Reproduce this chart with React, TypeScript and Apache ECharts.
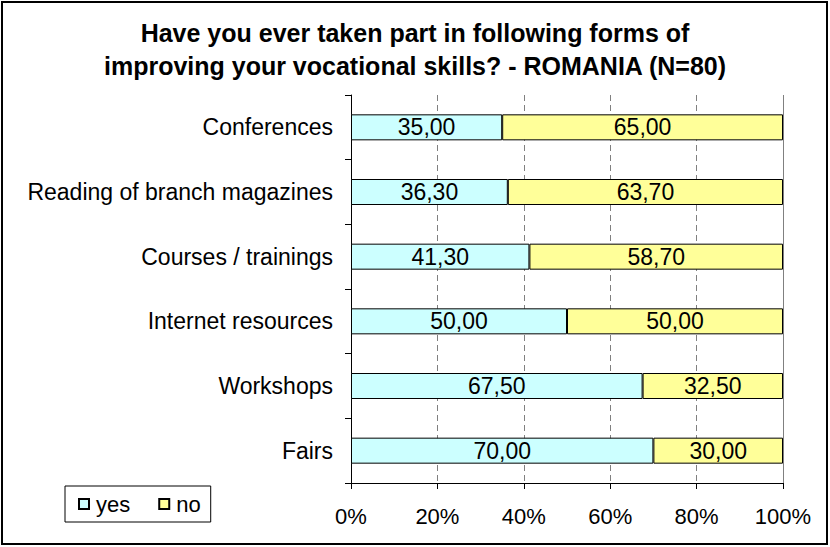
import React, { useEffect, useRef } from "react";
import * as echarts from "echarts";

const categories = [
  "Conferences",
  "Reading of branch magazines",
  "Courses / trainings",
  "Internet resources",
  "Workshops",
  "Fairs",
];
const yesValues = [35.0, 36.3, 41.3, 50.0, 67.5, 70.0];
const noValues = [65.0, 63.7, 58.7, 50.0, 32.5, 30.0];
const seriesNames = ["yes", "no"];
const titleText =
  "Have you ever taken part in following forms of\nimproving your vocational skills? - ROMANIA (N=80)";

const FONT = "'Liberation Sans', Arial, sans-serif";

export default function App() {
  const ref = useRef<HTMLDivElement>(null);
  useEffect(() => {
    if (!ref.current) return;
    const chart = echarts.init(ref.current, undefined, { renderer: "svg" });
    const fmt = (p: any) => Number(p.value).toFixed(2).replace(".", ",");
    const labelCfg = {
      show: true,
      position: "inside",
      color: "#000",
      fontSize: 23,
      fontFamily: FONT,
      formatter: fmt,
    };
    chart.setOption({
      animation: false,
      backgroundColor: "#fff",
      textStyle: { fontFamily: FONT },
      title: {
        text: titleText,
        left: "center",
        top: 11,
        textStyle: {
          fontSize: 25,
          fontWeight: "bold",
          lineHeight: 33,
          color: "#000",
          fontFamily: FONT,
        },
      },
      legend: {
        data: seriesNames,
        left: 65,
        top: 486,
        orient: "horizontal",
        icon: "rect",
        itemWidth: 10,
        itemHeight: 10,
        itemGap: 28,
        borderColor: "#000",
        borderWidth: 1,
        padding: [7, 10, 7, 13],
        textStyle: { fontSize: 22, color: "#000", fontFamily: FONT, padding: [0, 0, 0, 2] },
      },
      grid: { left: 351, right: 47, top: 95, bottom: 64 },
      xAxis: {
        type: "value",
        min: 0,
        max: 100,
        interval: 20,
        axisLine: { show: true, lineStyle: { color: "#000", width: 1 } },
        axisTick: { show: true, length: 6, lineStyle: { color: "#000" } },
        axisLabel: {
          formatter: "{value}%",
          fontSize: 22,
          color: "#000",
          margin: 22,
          fontFamily: FONT,
        },
        splitLine: {
          show: true,
          lineStyle: { color: "#808080", type: [6, 4], width: 1 },
        },
      },
      yAxis: {
        type: "category",
        data: categories,
        inverse: true,
        axisLine: { show: true, lineStyle: { color: "#000", width: 1 } },
        axisTick: { show: true, length: 6, alignWithLabel: false, lineStyle: { color: "#000" } },
        axisLabel: { fontSize: 23, color: "#000", margin: 18, fontFamily: FONT },
        splitLine: { show: false },
      },
      graphic: [
        {
          type: "rect",
          shape: { x: 2, y: 2, width: 825, height: 542 },
          style: { fill: "none", stroke: "#000", lineWidth: 2 },
          silent: true,
        },
      ],
      series: [
        {
          name: seriesNames[0],
          type: "bar",
          stack: "total",
          barWidth: 26,
          data: yesValues,
          itemStyle: { color: "#CCFFFF", borderColor: "#000", borderWidth: 1 },
          label: labelCfg,
        },
        {
          name: seriesNames[1],
          type: "bar",
          stack: "total",
          barWidth: 26,
          data: noValues,
          itemStyle: { color: "#FFFF99", borderColor: "#000", borderWidth: 1 },
          label: labelCfg,
          markLine: {
            silent: true,
            symbol: ["none", "none"],
            label: { show: false },
            lineStyle: { color: "#808080", type: "solid", width: 1 },
            data: [{ xAxis: 100 }],
          },
        },
      ],
    });
    return () => chart.dispose();
  }, []);
  return (
    <div
      ref={ref}
      style={{ position: "absolute", left: 0, top: 0, width: 830, height: 547 }}
    />
  );
}
